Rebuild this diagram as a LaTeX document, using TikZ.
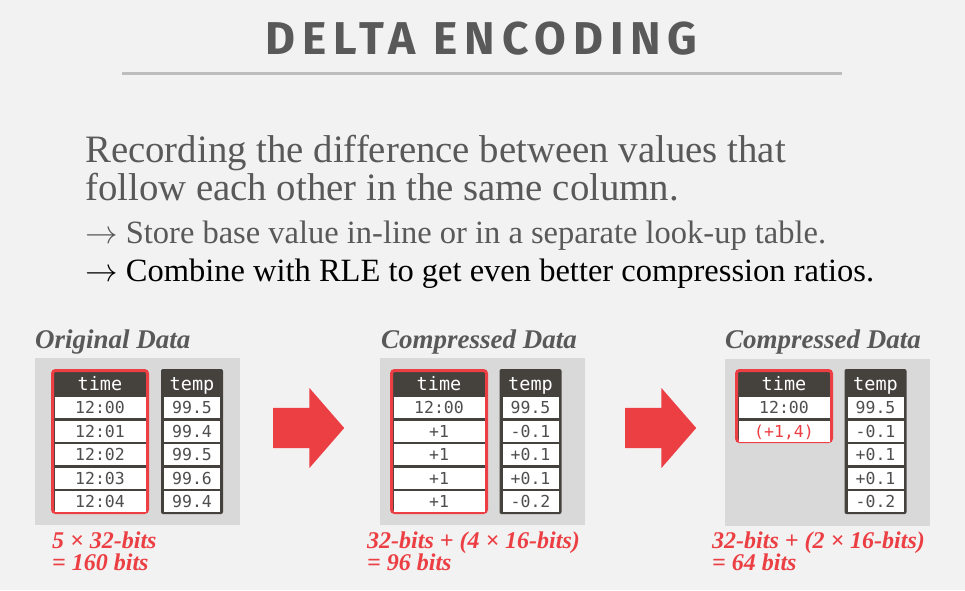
\documentclass[tikz,border=0pt]{standalone}
\usepackage{fix-cm}
\usepackage{fontspec}
\setmainfont{Liberation Serif}
\newfontfamily\cellfont{DejaVu Sans Mono}
\newfontfamily\headfont[LetterSpace=15]{Fira Sans}
\usetikzlibrary{shapes.arrows}
\definecolor{slidebg}{RGB}{242,242,242}
\definecolor{slidegray}{RGB}{89,89,89}
\definecolor{cellgray}{RGB}{78,78,78}
\definecolor{rulegray}{RGB}{189,189,189}
\definecolor{panelgray}{RGB}{217,217,217}
\definecolor{coldark}{RGB}{69,66,62}
\definecolor{hired}{RGB}{236,63,68}
\begin{document}
\begin{tikzpicture}[x=1pt,y=-1pt,
  panel/.style={fill=panelgray, minimum width=205, minimum height=167, inner sep=0},
  timecol/.style={draw=hired, line width=3, fill=coldark, rounded corners=3, minimum width=95, inner sep=0},
  tempcol/.style={fill=coldark, rounded corners=2, minimum width=62, minimum height=145, inner sep=0},
  colhead/.style={anchor=base, text=white, font=\cellfont\fontsize{18.5}{20}\selectfont, inner sep=0},
  tcell/.style={fill=white, text=cellgray, font=\cellfont\fontsize{16.5}{18}\selectfont, minimum width=91, minimum height=21, text height=11.5, text depth=0, inner sep=0},
  vcell/.style={tcell, minimum width=56},
  datatitle/.style={anchor=base west, inner sep=0, text=slidegray, font=\bfseries\itshape\fontsize{27}{30}\selectfont},
  bitsnote/.style={anchor=base west, inner sep=0, text=hired, font=\bfseries\itshape\fontsize{24}{26}\selectfont},
  bigarrow/.style={single arrow, fill=hired, anchor=tail, minimum height=71, minimum width=80, single arrow head extend=20, single arrow tip angle=98, inner xsep=0, inner ysep=20}]
\fill[slidebg] (0,0) rectangle (965,590);
\node[anchor=base west, inner sep=0, text=slidegray, font=\headfont\bfseries\fontsize{46}{50}\selectfont] (title) at (265,54) {DELTA ENCODING};
\draw[rulegray, line width=3] (122,73) -- (842,73);
\node[anchor=base west, inner sep=0, text=slidegray, font=\fontsize{38.8}{42}\selectfont] (intro1) at (85,162) {Recording the difference between values that};
\node[anchor=base west, inner sep=0, text=slidegray, font=\fontsize{38.8}{42}\selectfont] (intro2) at (85,200) {follow each other in the same column.};
\node[anchor=base west, inner sep=0, text=slidegray, font=\fontsize{32.5}{36}\selectfont] (point1) at (85,243) {$\rightarrow$ Store base value in-line or in a separate look-up table.};
\node[anchor=base west, inner sep=0, text=black, font=\fontsize{32.5}{36}\selectfont] (point2) at (85,281) {$\rightarrow$ Combine with RLE to get even better compression ratios.};

\node[datatitle] (orig) at (35,348) {Original Data};
\node[panel] (p1) at (137.5,441.5) {};
\node[timecol, minimum height=142] (p1time) at (100,441.5) {};
\node[tempcol] (p1temp) at (192,441.5) {};
\node[colhead] (p1th) at (100,390) {time};
\node[colhead] (p1vh) at (192,390) {temp};
\node[tcell] (p1t1) at (100,407.75) {12:00};
\node[tcell] (p1t2) at (100,431.25) {12:01};
\node[tcell] (p1t3) at (100,454.75) {12:02};
\node[tcell] (p1t4) at (100,478.25) {12:03};
\node[tcell] (p1t5) at (100,501.75) {12:04};
\node[vcell] (p1v1) at (192,407.75) {99.5};
\node[vcell] (p1v2) at (192,431.25) {99.4};
\node[vcell] (p1v3) at (192,454.75) {99.5};
\node[vcell] (p1v4) at (192,478.25) {99.6};
\node[vcell] (p1v5) at (192,501.75) {99.4};
\node[bitsnote] (p1bits) at (52,548) {5 × 32-bits};
\node[bitsnote] (p1total) at (52,570) {= 160 bits};

\node[bigarrow] (arr1) at (273,428) {};

\node[datatitle] (comp1) at (381,348) {Compressed Data};
\node[panel] (p2) at (482,441.5) {};
\node[timecol, minimum height=142] (p2time) at (439,441.5) {};
\node[tempcol] (p2temp) at (530.5,441.5) {};
\node[colhead] (p2th) at (439,390) {time};
\node[colhead] (p2vh) at (530.5,390) {temp};
\node[tcell] (p2t1) at (439,407.75) {12:00};
\node[tcell] (p2t2) at (439,431.25) {+1};
\node[tcell] (p2t3) at (439,454.75) {+1};
\node[tcell] (p2t4) at (439,478.25) {+1};
\node[tcell] (p2t5) at (439,501.75) {+1};
\node[vcell] (p2v1) at (530.5,407.75) {99.5};
\node[vcell] (p2v2) at (530.5,431.25) {-0.1};
\node[vcell] (p2v3) at (530.5,454.75) {+0.1};
\node[vcell] (p2v4) at (530.5,478.25) {+0.1};
\node[vcell] (p2v5) at (530.5,501.75) {-0.2};
\node[bitsnote] (p2bits) at (367,548) {32-bits + (4 × 16-bits)};
\node[bitsnote] (p2total) at (367,570) {= 96 bits};

\node[bigarrow] (arr2) at (625,428) {};

\node[datatitle] (comp2) at (725,348) {Compressed Data};
\node[panel] (p3) at (827,442) {};
\node[timecol, minimum height=71] (p3time) at (784,406) {};
\node[tempcol] (p3temp) at (875.5,441.5) {};
\node[colhead] (p3th) at (784,390) {time};
\node[colhead] (p3vh) at (875.5,390) {temp};
\node[tcell] (p3t1) at (784,407.75) {12:00};
\node[tcell, text=hired] (p3t2) at (784,431.25) {(+1,4)};
\node[vcell] (p3v1) at (875.5,407.75) {99.5};
\node[vcell] (p3v2) at (875.5,431.25) {-0.1};
\node[vcell] (p3v3) at (875.5,454.75) {+0.1};
\node[vcell] (p3v4) at (875.5,478.25) {+0.1};
\node[vcell] (p3v5) at (875.5,501.75) {-0.2};
\node[bitsnote] (p3bits) at (712,548) {32-bits + (2 × 16-bits)};
\node[bitsnote] (p3total) at (712,570) {= 64 bits};
\end{tikzpicture}
\end{document}
